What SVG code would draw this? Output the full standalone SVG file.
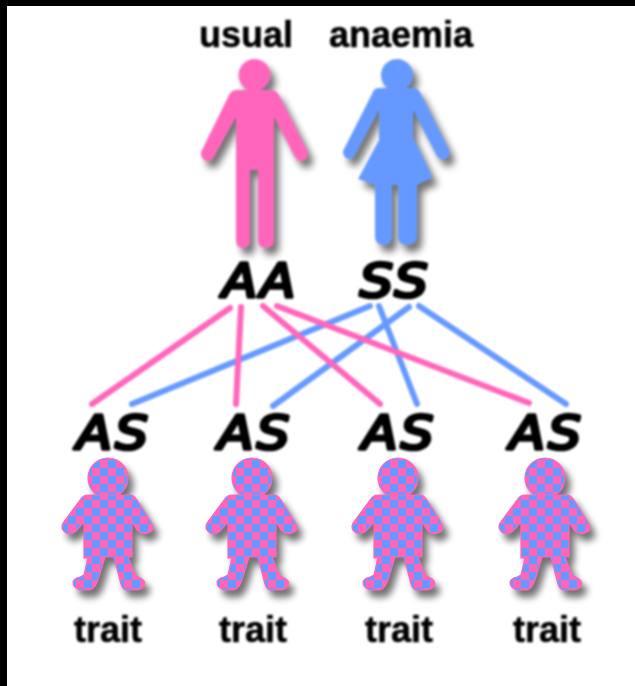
<svg xmlns="http://www.w3.org/2000/svg" width="635" height="686" viewBox="0 0 635 686">
<style>
.l{font-family:"Liberation Sans",Arial,sans-serif;font-weight:700;font-size:36px;fill:#000;stroke:#000;stroke-width:0.5;text-anchor:middle}
.g{font-family:"DejaVu Sans",sans-serif;font-style:italic;font-size:46px;letter-spacing:3px;fill:#000;stroke:#000;stroke-width:3.6;stroke-linejoin:round;text-anchor:middle}
.p{stroke:#ff66bb;stroke-width:6;fill:none;stroke-linecap:round}
.b{stroke:#6699ff;stroke-width:6;fill:none;stroke-linecap:round}
.k{fill:url(#ck);stroke:#ff66bb;stroke-width:1.2}
</style>
<defs>
<filter id="soft" filterUnits="userSpaceOnUse" x="0" y="0" width="635" height="686" color-interpolation-filters="sRGB"><feGaussianBlur stdDeviation="1"/></filter>
<filter id="sh" x="-30%" y="-20%" width="170%" height="150%" color-interpolation-filters="sRGB"><feGaussianBlur in="SourceAlpha" stdDeviation="3.5"/><feOffset dx="5" dy="7"/><feComponentTransfer><feFuncA type="linear" slope="0.55"/></feComponentTransfer><feMerge><feMergeNode/><feMergeNode in="SourceGraphic"/></feMerge></filter>
<pattern id="ck" width="16" height="16" patternUnits="userSpaceOnUse" x="4" y="4"><rect width="16" height="16" fill="#ff66bb"/><rect width="8" height="8" fill="#6699ff"/><rect x="8" y="8" width="8" height="8" fill="#6699ff"/></pattern>
<g id="kid"><circle cx="108" cy="478" r="20"/><path d="M88 495H130Q134 495 137 500L152 524Q155 531 148 533Q141 535 137 530L132 522V557H128L135 575L142 579Q147 583 143 587Q140 590 134 590L126 590Q122 589 121 584L114 557H105L99 577Q96 588 90 590L80 590Q73 588 73 582Q74 578 80 577L84 575L88 558H84V522L77 530Q72 535 66 533Q60 529 63 523L80 500Q83 495 88 495Z"/></g>
</defs>
<rect width="635" height="686" fill="#fff"/>
<g id="connectors" filter="url(#soft)">
<path class="b" d="M370 306L132 404M379 306L417 404M409 307L273 406M419 306L566 404"/>
<path class="p" d="M230 308L92 404M241 307L236 404M263 306L380 404M277 306L529 403"/>
</g>
<g id="parent-usual" filter="url(#soft)">
<text class="l" x="246" y="47">usual</text>
<g filter="url(#sh)" fill="#ff66bb"><circle cx="254.500" cy="75" r="16"/><path d="M236 90H271Q276 90 279 95L307 150Q310 156 305 160Q299 163 295 157L274 117V240Q274 248 266 248Q258 248 258 240V170H250V240Q250 248 243 248Q236 248 236 240V117L214 157Q210 163 204 160Q199 156 202 150L229 95Q232 90 236 90Z"/></g>
<text class="g" transform="translate(260.500 297) scale(1.1 1)">AA</text>
</g>
<g id="parent-anaemia" filter="url(#soft)">
<text class="l" x="401" y="47">anaemia</text>
<g filter="url(#sh)" fill="#6699ff"><circle cx="397" cy="75" r="16"/><path d="M378 88H414Q418 88 421 94L449 150Q451 156 446 159Q441 161 437 156L413 110V137L433 178Q424 181 417 185V236Q417 245 407 245Q398 245 398 236V185H392V236Q392 245 384 245Q375 245 375 236V185Q367 182 358 179L379 140V110L355 155Q351 161 346 158Q341 153 344 149L372 94Q374 88 378 88Z"/></g>
<text class="g" transform="translate(395.500 297) scale(1.14 1)">SS</text>
</g>
<g id="child-1"><g filter="url(#soft)"><text class="g" transform="translate(114 449) scale(1.12 1)">AS</text><text class="l" x="108" y="642">trait</text></g><use href="#kid" class="k" filter="url(#sh)"/></g>
<g id="child-2"><g filter="url(#soft)"><text class="g" transform="translate(255.500 449) scale(1.12 1)">AS</text><text class="l" x="253" y="642">trait</text></g><use href="#kid" x="144" class="k" filter="url(#sh)"/></g>
<g id="child-3"><g filter="url(#soft)"><text class="g" transform="translate(399.500 449) scale(1.12 1)">AS</text><text class="l" x="399" y="642">trait</text></g><use href="#kid" x="290" class="k" filter="url(#sh)"/></g>
<g id="child-4"><g filter="url(#soft)"><text class="g" transform="translate(547 449) scale(1.12 1)">AS</text><text class="l" x="547" y="642">trait</text></g><use href="#kid" x="437" class="k" filter="url(#sh)"/></g>
<rect width="635" height="6" fill="#000"/>
<rect width="7" height="686" fill="#000"/>
</svg>
